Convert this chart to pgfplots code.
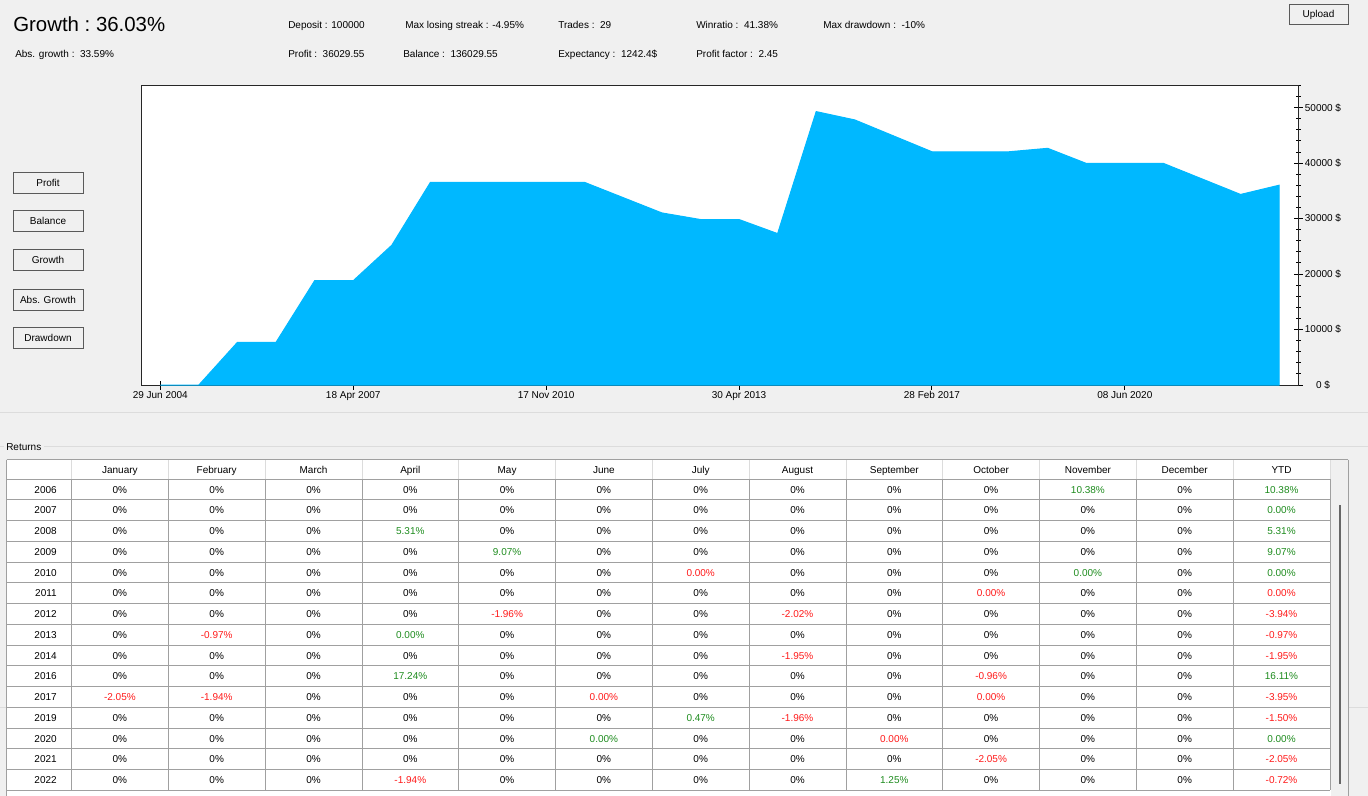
\documentclass[border=0pt]{standalone}
\usepackage{fontspec}
\setmainfont{Liberation Sans}
\usepackage{pgfplots}
\pgfplotsset{compat=1.18}

\definecolor{winbg}{HTML}{F0F0F0}
\definecolor{areablue}{HTML}{00B8FF}
\definecolor{gridgray}{HTML}{A0A0A0}
\definecolor{hdrgray}{HTML}{DCDCDC}
\definecolor{btnborder}{HTML}{5A5A5A}
\definecolor{cg}{HTML}{1E8C1E}
\definecolor{cr}{HTML}{FF1A1A}

\newcommand\sm{\fontsize{7.5}{9}\selectfont}
% table cells: 0 -> black 0%, gX -> green X%, rX -> red X%
\def\zerostr{0}
\def\parsecell#1#2\relax{\textcolor{c#1}{#2\%}}
\newcommand\cellfmt[1]{\edef\tmp{#1}\ifx\tmp\zerostr 0\%\else\expandafter\parsecell\tmp\relax\fi}

\begin{document}
\begin{tikzpicture}
\begin{scope}[x=0.75pt,y=-0.75pt,
  cell/.style={font=\sm, inner sep=0pt, text height=5.6pt, text depth=1.4pt, anchor=center}]
  \fill[winbg] (0,0) rectangle (1368,796);
  \path[use as bounding box] (0,0) rectangle (1368,796);

  % header stats
  \node[anchor=base west, inner sep=0pt, font=\fontsize{15.3}{18}\selectfont] at (13,31.5) {Growth :~36.03\%};
  \begin{scope}[every node/.style={anchor=base west, inner sep=0pt, font=\sm}]
    \node at (15,57.5) {Abs. growth :~~33.59\%};
    \node at (288,28.8) {Deposit : 100000};
    \node at (288,57.5) {Profit :~~36029.55};
    \node at (405,28.8) {Max losing streak : -4.95\%};
    \node at (403,57.5) {Balance :~~136029.55};
    \node at (558,28.8) {Trades :~~29};
    \node at (558,57.5) {Expectancy :~~1242.4\$};
    \node at (696,28.8) {Winratio :~~41.38\%};
    \node at (696,57.5) {Profit factor :~~2.45};
    \node at (823,28.8) {Max drawdown :~~-10\%};
  \end{scope}
  \draw[btnborder] (1289,4.5) rectangle (1348,24);
  \node[cell] at (1318.5,15) {Upload};

  % side buttons
  \foreach \yy/\lbl in {172.5/Profit, 210.5/Balance, 249.5/Growth, 289.5/Abs. Growth, 327.5/Drawdown}{
    \draw[btnborder] (13,\yy) rectangle (83,\yy+21);
    \node[cell] at (48,\yy+11.5) {\lbl};
  }

  % separators and group box
  \draw[hdrgray] (0,412.5) -- (1368,412.5);
  \draw[hdrgray] (0,446) -- (4,446);
  \draw[hdrgray] (44,446) -- (1368,446);
  \node[anchor=base west, inner sep=0pt, font=\sm] at (6,450) {Returns};

  % table frame
  \fill[white] (7,459) rectangle (1331,796);
  \draw[gridgray] (6.5,459.5) -- (1348,459.5);
  \draw[gridgray] (6.5,459.5) -- (6.5,796);
  \draw[gridgray] (1348,459.5) -- (1348,796);
  \draw[hdrgray] (0,707.5) -- (6,707.5);
  \draw[hdrgray] (1348.5,707.5) -- (1368,707.5);
  \draw[gray!80!black, line width=1.5pt] (1340,505) -- (1340,784);
  \foreach \k in {0,...,13}{
    \draw[hdrgray] ({71.5+96.8*\k},460) -- ({71.5+96.8*\k},479);
    \draw[gridgray] ({71.5+96.8*\k},479) -- ({71.5+96.8*\k},790.25);
  }
  \foreach \k in {0,...,15}
    \draw[gridgray] (7,{479+20.75*\k}) -- (1330,{479+20.75*\k});

  % header row
  \foreach \m [count=\i] in {January,February,March,April,May,June,July,August,September,October,November,December,YTD}
    \node[cell] at ({23.1+96.8*\i},470.2) {\m};

  % returns
  \foreach \yr/\vals [count=\r from 0] in {
    2006/{0,0,0,0,0,0,0,0,0,0,g10.38,0,g10.38},
    2007/{0,0,0,0,0,0,0,0,0,0,0,0,g0.00},
    2008/{0,0,0,g5.31,0,0,0,0,0,0,0,0,g5.31},
    2009/{0,0,0,0,g9.07,0,0,0,0,0,0,0,g9.07},
    2010/{0,0,0,0,0,0,r0.00,0,0,0,g0.00,0,g0.00},
    2011/{0,0,0,0,0,0,0,0,0,r0.00,0,0,r0.00},
    2012/{0,0,0,0,r-1.96,0,0,r-2.02,0,0,0,0,r-3.94},
    2013/{0,r-0.97,0,g0.00,0,0,0,0,0,0,0,0,r-0.97},
    2014/{0,0,0,0,0,0,0,r-1.95,0,0,0,0,r-1.95},
    2016/{0,0,0,g17.24,0,0,0,0,0,r-0.96,0,0,g16.11},
    2017/{r-2.05,r-1.94,0,0,0,r0.00,0,0,0,r0.00,0,0,r-3.95},
    2019/{0,0,0,0,0,0,g0.47,r-1.96,0,0,0,0,r-1.50},
    2020/{0,0,0,0,0,g0.00,0,0,r0.00,0,0,0,g0.00},
    2021/{0,0,0,0,0,0,0,0,0,r-2.05,0,0,r-2.05},
    2022/{0,0,0,r-1.94,0,0,0,0,g1.25,0,0,0,r-0.72}}{
    \node[cell, anchor=east] at (57,{490.2+20.75*\r}) {\yr};
    \foreach \v [count=\i] in \vals
      \node[cell] at ({23.1+96.8*\i},{490.2+20.75*\r}) {\cellfmt{\v}};
  }
\end{scope}

\begin{axis}[
    at={(105.75pt,-288.75pt)}, anchor=south west,
    scale only axis, width=868.1pt, height=224.6pt,
    xmin=-0.5, xmax=29.5, ymin=0, ymax=54000,
    axis background/.style={fill=white},
    axis line style={black!85, line width=0.75pt},
    xtick={0,5,10,15,20,25},
    xticklabels={29 Jun 2004,18 Apr 2007,17 Nov 2010,30 Apr 2013,28 Feb 2017,08 Jun 2020},
    ytick={0,10000,20000,30000,40000,50000},
    yticklabels={0 \$,10000 \$,20000 \$,30000 \$,40000 \$,50000 \$},
    minor ytick={2000,4000,...,54000},
    xtick pos=left, ytick pos=right, yticklabel pos=right,
    tick align=center, major tick length=6.75pt, minor tick length=3.75pt,
    tick style={black, line width=0.75pt},
    tick label style={font=\sm},
    xticklabel style={inner sep=1pt},
    yticklabel style={anchor=center, xshift=15pt},
    scaled y ticks=false,
]
\addplot[fill=areablue, draw=areablue, line width=0.75pt] coordinates {
  (0,0) (1,0) (2,7700) (3,7700) (4,18800) (5,18800) (6,25200) (7,36530)
  (11,36530) (13,31030) (14,29840) (15,29840) (16,27300) (17,49300)
  (18,47800) (20,42060) (22,42060) (23,42680) (24,39960) (26,39960)
  (28,34360) (29,36030)
} \closedcycle;
\end{axis}
\end{tikzpicture}
\end{document}
